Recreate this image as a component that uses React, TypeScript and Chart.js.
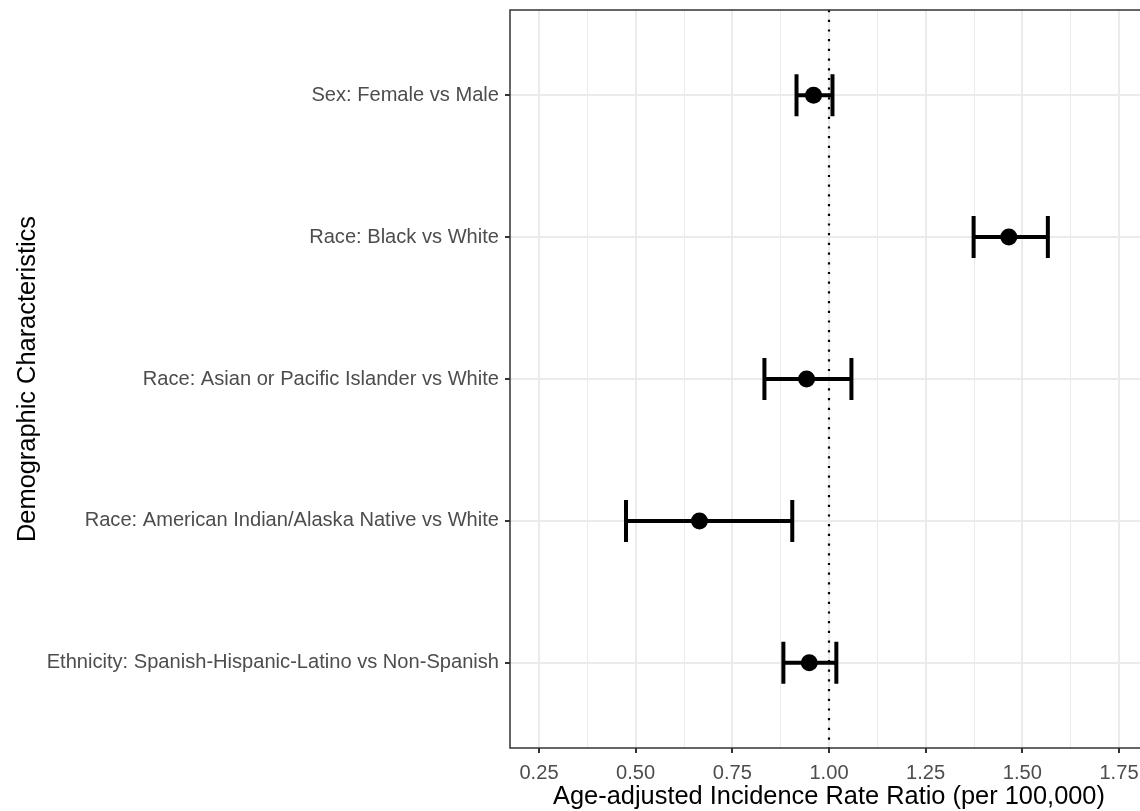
import React, { useEffect, useRef } from "react";
import { Chart, registerables } from "chart.js";

Chart.register(...registerables);

const categories: string[] = [
  "Sex: Female vs Male",
  "Race: Black vs White",
  "Race: Asian or Pacific Islander vs White",
  "Race: American Indian/Alaska Native vs White",
  "Ethnicity: Spanish-Hispanic-Latino vs Non-Spanish",
];
const estimates: number[] = [0.96, 1.465, 0.942, 0.665, 0.949];
const lowerCI: number[] = [0.916, 1.374, 0.833, 0.475, 0.882];
const upperCI: number[] = [1.009, 1.566, 1.058, 0.905, 1.019];
const xTickValues: number[] = [0.25, 0.375, 0.5, 0.625, 0.75, 0.875, 1.0, 1.125, 1.25, 1.375, 1.5, 1.625, 1.75];
const majorTicks: number[] = [0.25, 0.5, 0.75, 1.0, 1.25, 1.5, 1.75];
const referenceValue = 1.0;
const xTitle = "Age-adjusted Incidence Rate Ratio (per 100,000)";
const yTitle = "Demographic Characteristics";

const FONT = "'Liberation Sans', Arial, Helvetica, sans-serif";

const isMajor = (v: number) => majorTicks.some((m) => Math.abs(m - v) < 1e-6);

export default function App() {
  const ref = useRef<HTMLCanvasElement | null>(null);

  useEffect(() => {
    if (!ref.current) return;

    const extras = {
      id: "forestExtras",
      beforeDatasetsDraw(chart: any) {
        const { ctx, chartArea, scales } = chart;
        const xs = scales.x;
        const ys = scales.y;
        ctx.save();
        const rx = xs.getPixelForValue(referenceValue);
        ctx.strokeStyle = "#000";
        ctx.lineWidth = 2.2;
        ctx.setLineDash([2.2, 7.5]);
        ctx.beginPath();
        ctx.moveTo(rx, chartArea.top);
        ctx.lineTo(rx, chartArea.bottom);
        ctx.stroke();
        ctx.setLineDash([]);
        ctx.lineWidth = 4;
        ctx.lineCap = "butt";
        for (let i = 0; i < categories.length; i++) {
          const y = ys.getPixelForValue(i + 1);
          const xl = xs.getPixelForValue(lowerCI[i]);
          const xh = xs.getPixelForValue(upperCI[i]);
          ctx.beginPath();
          ctx.moveTo(xl, y);
          ctx.lineTo(xh, y);
          ctx.moveTo(xl, y - 21);
          ctx.lineTo(xl, y + 21);
          ctx.moveTo(xh, y - 21);
          ctx.lineTo(xh, y + 21);
          ctx.stroke();
        }
        ctx.restore();
      },
      afterDraw(chart: any) {
        const { ctx, chartArea } = chart;
        ctx.save();
        ctx.strokeStyle = "#333333";
        ctx.lineWidth = 1.5;
        ctx.strokeRect(chartArea.left, chartArea.top, chartArea.right - chartArea.left, chartArea.bottom - chartArea.top);
        ctx.fillStyle = "#000";
        ctx.font = `25.4px ${FONT}`;
        ctx.textAlign = "center";
        ctx.textBaseline = "middle";
        ctx.fillText(xTitle, (chartArea.left + chartArea.right) / 2, 797);
        ctx.translate(28, (chartArea.top + chartArea.bottom) / 2);
        ctx.rotate(-Math.PI / 2);
        ctx.fillText(yTitle, 0, 0);
        ctx.restore();
      },
    };

    const chart = new Chart(ref.current, {
      type: "scatter",
      data: {
        datasets: [
          {
            data: estimates.map((v, i) => ({ x: v, y: i + 1 })),
            pointRadius: 8.5,
            pointHoverRadius: 8.5,
            backgroundColor: "#000",
            borderWidth: 0,
          },
        ],
      },
      options: {
        responsive: false,
        animation: false,
        devicePixelRatio: 1,
        layout: { padding: { left: 0, top: 10, right: 12, bottom: 0 } },
        plugins: { legend: { display: false }, tooltip: { enabled: false } },
        scales: {
          x: {
            type: "linear",
            min: 0.175,
            max: 1.825,
            afterBuildTicks: (scale: any) => {
              scale.ticks = xTickValues.map((v) => ({ value: v }));
            },
            afterFit: (scale: any) => {
              scale.height = 63;
              scale.paddingLeft = 0;
              scale.paddingRight = 0;
            },
            ticks: {
              autoSkip: false,
              maxRotation: 0,
              padding: 8,
              color: "#4D4D4D",
              font: { family: FONT, size: 20.1 },
              callback: (v: any) => (isMajor(Number(v)) ? Number(v).toFixed(2) : ""),
            },
            grid: {
              color: "#EBEBEB",
              lineWidth: (c: any) => (c.tick && isMajor(c.tick.value) ? 2 : 1),
              tickLength: 5,
              tickWidth: 2,
              tickColor: (c: any) => (c.tick && isMajor(c.tick.value) ? "#333333" : "rgba(0,0,0,0)"),
            },
            border: { display: false },
          },
          y: {
            type: "linear",
            min: 0.4,
            max: 5.6,
            reverse: true,
            afterBuildTicks: (scale: any) => {
              scale.ticks = categories.map((_, i) => ({ value: i + 1 }));
            },
            afterFit: (scale: any) => {
              scale.width = 510;
              scale.paddingTop = 0;
              scale.paddingBottom = 0;
            },
            ticks: {
              autoSkip: false,
              padding: 6,
              color: "#4D4D4D",
              font: { family: FONT, size: 20.1 },
              callback: (v: any) => categories[Math.round(Number(v)) - 1] ?? "",
            },
            grid: {
              color: "#EBEBEB",
              lineWidth: 2,
              tickLength: 5,
              tickWidth: 2,
              tickColor: "#333333",
            },
            border: { display: false },
          },
        },
      },
      plugins: [extras],
    } as any);

    return () => chart.destroy();
  }, []);

  return (
    <div style={{ position: "absolute", left: 0, top: 0, width: 1140, height: 811, overflow: "hidden", background: "#fff" }}>
      <canvas ref={ref} width={1160} height={811} style={{ display: "block", width: 1160, height: 811 }} />
    </div>
  );
}
